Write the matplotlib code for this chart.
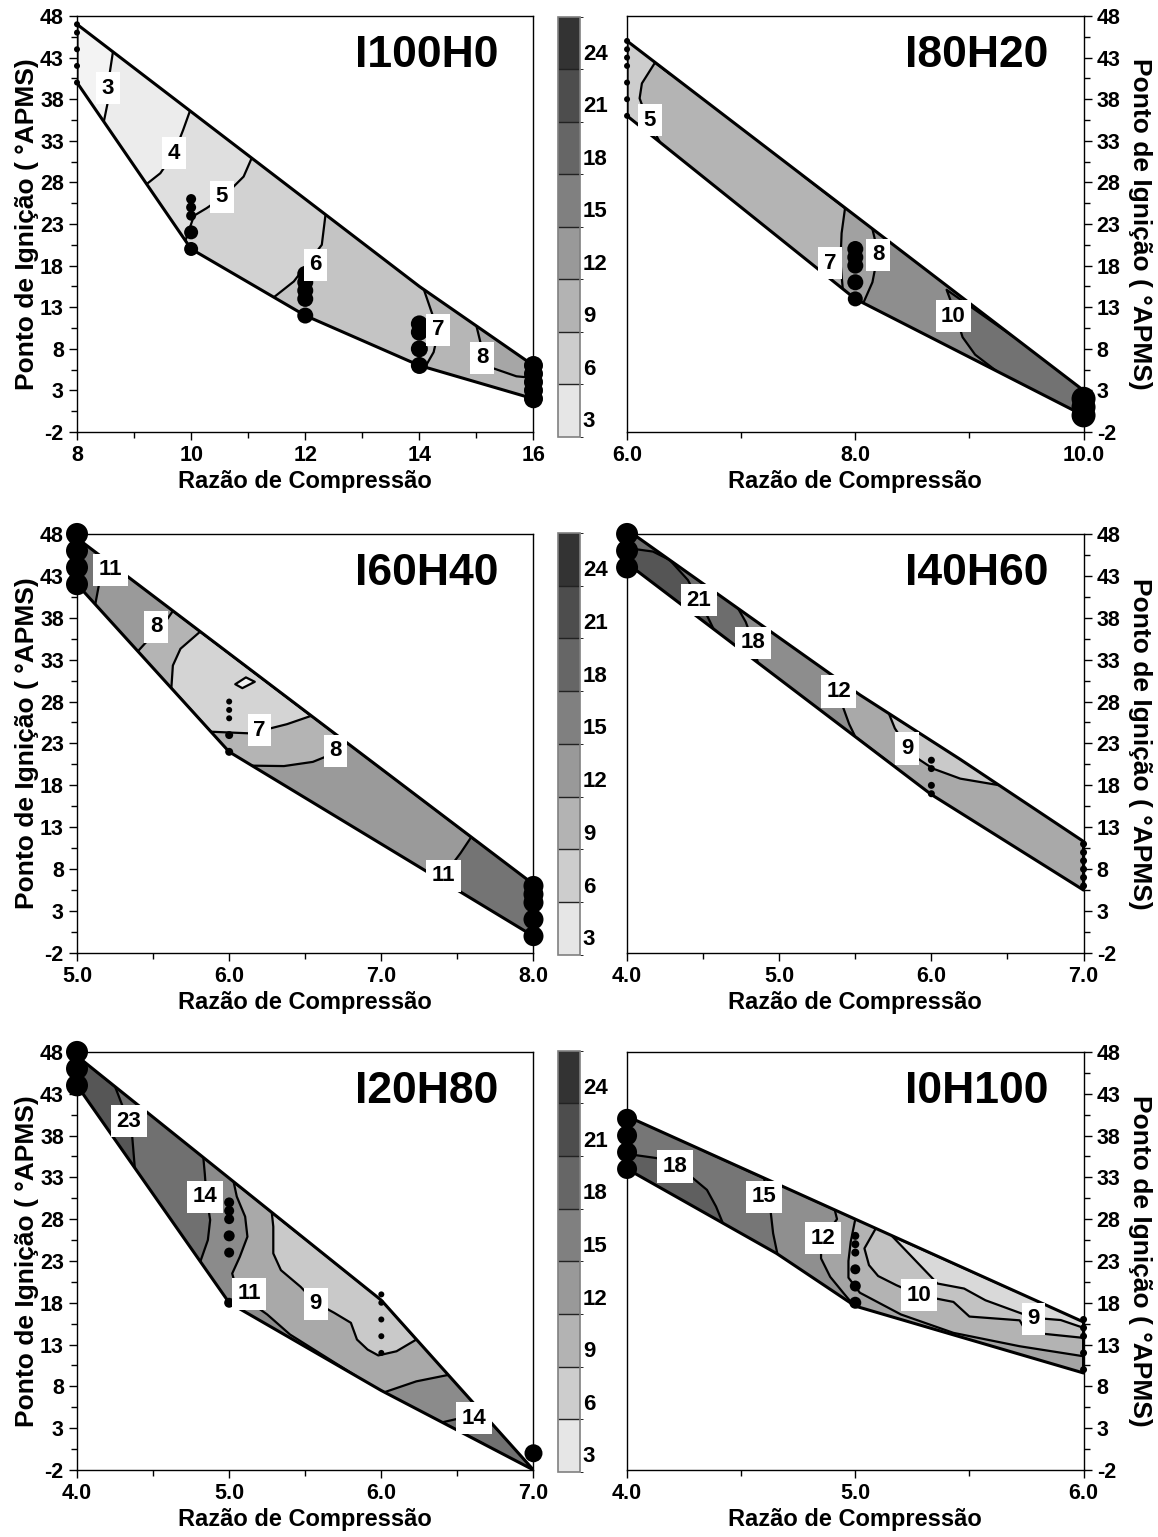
import matplotlib
matplotlib.use("Agg")
import matplotlib.pyplot as plt
import matplotlib.tri as mtri
from matplotlib.patches import Polygon
from matplotlib.colors import ListedColormap, BoundaryNorm
from matplotlib.ticker import FixedLocator, FormatStrFormatter
import matplotlib as mpl
import numpy as np

plt.rcParams['font.family'] = ['Liberation Sans', 'DejaVu Sans']
plt.rcParams['font.weight'] = 'bold'
plt.rcParams['axes.unicode_minus'] = False

# ---------------- I100H0 ----------------
a_boundary = [(8, 47), (8, 40), (10, 20), (12, 12), (14, 6), (16, 2), (16, 6), (14, 15.5)]
a_boundary_z = [2.6, 2.6, 5.05, 6.1, 6.95, 7.6, 8.4, 6.97]
a_isolines = [
    (3, [(8.63, 43.7), (8.57, 41.0), (8.55, 38.0), (8.47, 35.3)]),
    (4, [(9.98, 36.6), (9.86, 34.3), (9.70, 31.5), (9.46, 29.1), (9.22, 27.8)]),
    (5, [(11.06, 30.9), (10.92, 28.7), (10.57, 26.3), (10.27, 24.9), (10.05, 24.0), (9.90, 21.0)]),
    (6, [(12.36, 24.4), (12.29, 20.5), (12.20, 18.0), (12.0, 16.8), (11.80, 16.1), (11.45, 14.2)]),
    (7, [(14.08, 15.1), (14.22, 12.3), (14.33, 10.0), (14.25, 7.6), (14.10, 5.8)]),
    (8, [(15.00, 10.75), (15.08, 8.5), (15.15, 6.5), (15.30, 5.65), (15.70, 4.7), (16.0, 4.5)]),
]
a_extra = []
a_levels = [3, 4, 5, 6, 7, 8]
a_ens_x = [8, 8, 8, 8, 8, 10, 10, 10, 10, 10, 12, 12, 12, 12, 12, 14, 14, 14, 14, 16, 16, 16, 16, 16]
a_ens_y = [40, 42, 44, 46, 47, 20, 22, 24, 25, 26, 12, 14, 15, 16, 17, 6, 8, 10, 11, 2, 3, 4, 5, 6]
a_lab = {3: [(8.54, 39.3)], 4: [(9.70, 31.5)], 5: [(10.54, 26.25)], 6: [(12.18, 18.1)],
         7: [(14.33, 10.3)], 8: [(15.1, 6.9)]}

# ---------------- I80H20 ----------------
b_boundary = [(6, 45), (6, 36), (8, 14), (10, 0), (10, 3)]
b_boundary_z = [4.5, 4.5, 7.6, 11.0, 11.0]
b_isolines = [
    (5, [(6.245, 42.4), (6.13, 39.9), (6.11, 38.1), (6.18, 35.5), (6.29, 32.8)]),
    (7, [(7.91, 24.9), (7.88, 21.9), (7.87, 18.5), (7.89, 15.2)]),
    (8, [(8.15, 22.4), (8.20, 19.5), (8.15, 16.0), (8.07, 13.5)]),
    (10, [(8.80, 15.1), (8.87, 12.5), (8.94, 9.4), (9.05, 7.3), (9.24, 5.3)]),
]
b_extra = []
b_levels = [5, 7, 8, 10]
b_ens_x = [6] * 7 + [8] * 5 + [10] * 3
b_ens_y = [36, 38, 40, 42, 43, 44, 45, 14, 16, 18, 19, 20, 0, 1, 2]
b_lab = {5: [(6.20, 35.5)], 7: [(7.78, 18.3)], 8: [(8.20, 19.3)], 10: [(8.86, 11.9)]}

# ---------------- I60H40 ----------------
c_boundary = [(5, 47.5), (5, 42), (6, 22), (8, 0), (8, 6.2)]
c_boundary_z = [12.0, 12.0, 7.5, 12.3, 12.3]
c_isolines = [
    (11, [(5.17, 45.2), (5.15, 42.5), (5.12, 39.6)]),
    (8, [(5.63, 38.8), (5.58, 37.5), (5.50, 36.0), (5.40, 34.0)]),
    (7, [(5.81, 36.35), (5.68, 34.3), (5.63, 32.3), (5.62, 29.6)]),
    (7, [(5.88, 24.4), (6.14, 24.2), (6.38, 25.3), (6.54, 26.3)]),
    (8, [(6.15, 20.35), (6.36, 20.3), (6.55, 20.8), (6.70, 21.9), (6.78, 23.0)]),
    (11, [(7.59, 11.8), (7.52, 9.9), (7.45, 8.2), (7.40, 6.6)]),
]
c_extra = [(6.11, 30.3, 5.3), (5.99, 29.9, 6.5), (6.21, 30.4, 6.5), (6.11, 31.3, 6.5),
           (6.07, 29.1, 6.5), (5.75, 27.5, 6.7), (5.95, 33.5, 6.8), (6.30, 27.5, 6.7)]
c_levels = [6, 7, 8, 11]
c_ens_x = [5] * 4 + [6] * 5 + [8] * 5
c_ens_y = [42, 44, 46, 48, 22, 24, 26, 27, 28, 0, 2, 4, 5, 6]
c_lab = {11: [(5.22, 43.7), (7.41, 7.2)], 8: [(5.52, 36.9), (6.70, 22.1)], 7: [(6.20, 24.6)]}

# ---------------- I40H60 ----------------
d_boundary = [(4, 48.5), (4, 44.5), (6, 16.9), (7, 5.5), (7, 11.3), (6.19, 21.1), (5.53, 28.8)]
d_boundary_z = [20.3, 22.3, 10.6, 10.6, 10.4, 8.6, 10.5]
d_isolines = [
    (21, [(4.05, 46.2), (4.17, 45.9), (4.28, 44.9), (4.40, 42.5), (4.47, 40.1), (4.53, 38.1), (4.57, 36.6)]),
    (18, [(4.73, 39.1), (4.78, 37.5), (4.83, 35.0), (4.86, 32.6)]),
    (12, [(5.36, 31.1), (5.40, 29.0), (5.42, 27.3), (5.46, 25.3), (5.50, 23.8)]),
    (9, [(5.72, 26.6), (5.76, 24.8), (5.84, 22.6), (5.91, 21.2), (6.01, 20.0), (6.19, 18.8), (6.45, 18.0)]),
]
d_extra = [(6.02, 22.5, 8.6), (5.85, 24.5, 8.7)]
d_levels = [9, 12, 18, 21]
d_ens_x = [4] * 3 + [6] * 4 + [7] * 6
d_ens_y = [44, 46, 48, 17, 18, 20, 21, 6, 7, 8, 9, 10, 11]
d_lab = {21: [(4.47, 40.1)], 18: [(4.83, 35.0)], 12: [(5.39, 29.2)], 9: [(5.84, 22.4)]}

# ---------------- I20H80 ----------------
e_boundary = [(4, 47.5), (4, 44), (5, 18), (6, 7.5), (7, -2), (6, 18.3)]
e_boundary_z = [24.5, 24.5, 11.5, 10.9, 15.5, 8.6]
e_isolines = [
    (23, [(4.25, 43.85), (4.30, 41.5), (4.36, 38.5), (4.37, 36.3), (4.38, 34.1)]),
    (14, [(4.83, 35.4), (4.84, 33.4), (4.85, 30.9), (4.875, 27.9), (4.86, 25.5), (4.81, 22.9)]),
    (11, [(5.03, 32.4), (5.05, 30.7), (5.105, 28.3), (5.12, 25.9), (5.07, 23.5), (5.02, 21.5),
          (5.05, 19.5), (5.15, 17.9), (5.25, 16.6), (5.40, 14.2)]),
    (9, [(5.28, 28.8), (5.29, 27.1), (5.29, 23.9), (5.34, 21.9), (5.47, 19.9), (5.57, 18.0), (5.69, 16.8),
         (5.80, 15.6), (5.84, 13.6), (5.91, 12.4), (5.98, 11.7), (6.10, 12.2), (6.23, 13.6)]),
    (11, [(6.02, 7.3), (6.23, 8.6), (6.44, 9.37)]),
    (14, [(6.40, 3.7), (6.52, 4.2), (6.66, 4.9)]),
]
e_extra = [(5.60, 22.0, 8.5), (5.85, 18.0, 8.5), (6.0, 16.0, 8.6), (5.45, 25.0, 8.7)]
e_levels = [9, 11, 14, 23]
e_ens_x = [4] * 3 + [5] * 6 + [6] * 5 + [7]
e_ens_y = [44, 46, 48, 18, 24, 26, 28, 29, 30, 12, 14, 16, 18, 19, 0]
e_lab = {23: [(4.34, 39.7)], 14: [(4.84, 30.7), (6.61, 4.2)], 11: [(5.13, 19.1)], 9: [(5.57, 17.9)]}

# ---------------- I0H100 ----------------
f_boundary = [(4, 40.3), (4, 34), (4.655, 23.9), (5, 17.6), (6, 9.6), (6, 15.7)]
f_boundary_z = [17.2, 19.3, 15.05, 11.9, 11.4, 8.5]
f_isolines = [
    (18, [(4.0, 35.8), (4.13, 35.3), (4.21, 34.4), (4.28, 33.1), (4.35, 31.5), (4.39, 29.5), (4.42, 27.5)]),
    (15, [(4.60, 32.9), (4.62, 30.5), (4.63, 28.7), (4.64, 26.3), (4.645, 24.1)]),
    (12, [(4.91, 29.1), (4.92, 28.0), (4.88, 26.5), (4.85, 24.5), (4.85, 23.3), (4.89, 21.1),
          (4.95, 19.1), (4.99, 17.8)]),
    (11, [(5.0, 28.0), (4.98, 25.3), (4.97, 23.0), (4.97, 21.0), (5.02, 19.2), (5.20, 16.6),
          (5.43, 14.4), (5.72, 12.8), (6.0, 11.6)]),
    (10, [(5.09, 26.9), (5.04, 24.5), (5.06, 22.5), (5.10, 21.2), (5.18, 20.1), (5.28, 18.9),
          (5.43, 18.1), (5.72, 15.9), (6.0, 13.8)]),
    (9, [(5.16, 26.0), (5.12, 24.3), (5.14, 23.5), (5.21, 21.9), (5.36, 20.3), (5.57, 18.3),
         (5.78, 16.2), (6.0, 15.0)]),
]
f_extra = [(5.50, 20.5, 8.5), (5.85, 17.0, 8.5)]
f_levels = [9, 10, 11, 12, 15, 18]
f_ens_x = [4] * 4 + [5] * 6 + [6] * 5
f_ens_y = [34, 36, 38, 40, 18, 20, 22, 24, 25, 26, 10, 12, 14, 15, 16]
f_lab = {18: [(4.21, 34.3)], 15: [(4.60, 30.7)], 12: [(4.86, 25.7)], 10: [(5.28, 18.9)], 9: [(5.78, 16.1)]}

# shared colour scale shown in the colour bars
cbar_bounds = [2, 5, 8, 11, 14, 17, 20, 23, 26]
cbar_ticks = [3, 6, 9, 12, 15, 18, 21, 24]

# ---------------- styling ----------------
panels = [
    dict(name='I100H0', boundary=a_boundary, bz=a_boundary_z, iso=a_isolines, extra=a_extra,
         levels=a_levels, ex=a_ens_x, ey=a_ens_y, lab=a_lab, xlim=(8, 16), xmaj=[8, 10, 12, 14, 16],
         xmin=[9, 11, 13, 15], fmt='%d', side='left', row=0,
         fill_levels=[2, 3, 4, 5, 6, 7, 8, 9],
         fill_colors=['#f3f3f3', '#ececec', '#dfdfdf', '#d2d2d2', '#c4c4c4', '#b6b6b6', '#a6a6a6'],
         r=[3] * 5 + [7, 7, 5, 5, 5] + [8] * 5 + [8.5] * 4 + [9.5] * 5),
    dict(name='I80H20', boundary=b_boundary, bz=b_boundary_z, iso=b_isolines, extra=b_extra,
         levels=b_levels, ex=b_ens_x, ey=b_ens_y, lab=b_lab, xlim=(6, 10), xmaj=[6, 8, 10], xmin=[7, 9],
         fmt='%.1f', side='right', row=0,
         fill_levels=[4, 5, 7, 8, 10, 12],
         fill_colors=['#cdcdcd', '#b4b4b4', '#a1a1a1', '#8e8e8e', '#727272'],
         r=[3] * 7 + [7.5, 8, 8, 8, 8] + [12] * 3),
    dict(name='I60H40', boundary=c_boundary, bz=c_boundary_z, iso=c_isolines, extra=c_extra,
         levels=c_levels, ex=c_ens_x, ey=c_ens_y, lab=c_lab, xlim=(5, 8), xmaj=[5, 6, 7, 8],
         xmin=[5.5, 6.5, 7.5], fmt='%.1f', side='left', row=1,
         fill_levels=[5, 6, 7, 8, 11, 13],
         fill_colors=['#f2f2f2', '#d4d4d4', '#b4b4b4', '#9a9a9a', '#747474'],
         r=[11] * 4 + [4, 4, 3, 3, 3] + [10] * 5),
    dict(name='I40H60', boundary=d_boundary, bz=d_boundary_z, iso=d_isolines, extra=d_extra,
         levels=d_levels, ex=d_ens_x, ey=d_ens_y, lab=d_lab, xlim=(4, 7), xmaj=[4, 5, 6, 7],
         xmin=[4.5, 5.5, 6.5], fmt='%.1f', side='right', row=1,
         fill_levels=[8, 9, 12, 18, 21, 24],
         fill_colors=['#c9c9c9', '#a9a9a9', '#8d8d8d', '#6d6d6d', '#555555'],
         r=[11] * 3 + [3.5] * 4 + [3.5] * 6),
    dict(name='I20H80', boundary=e_boundary, bz=e_boundary_z, iso=e_isolines, extra=e_extra,
         levels=e_levels, ex=e_ens_x, ey=e_ens_y, lab=e_lab, xlim=(4, 7), xmaj=[4, 5, 6, 7],
         xmin=[4.5, 5.5, 6.5], fmt='%.1f', side='left', row=2,
         fill_levels=[8, 9, 11, 14, 23, 26],
         fill_colors=['#c9c9c9', '#a9a9a9', '#8b8b8b', '#707070', '#565656'],
         r=[11] * 3 + [5, 5, 5.5, 5, 5, 5] + [3] * 5 + [9]),
    dict(name='I0H100', boundary=f_boundary, bz=f_boundary_z, iso=f_isolines, extra=f_extra,
         levels=f_levels, ex=f_ens_x, ey=f_ens_y, lab=f_lab, xlim=(4, 6), xmaj=[4, 5, 6],
         xmin=[4.5, 5.5], fmt='%.1f', side='right', row=2,
         fill_levels=[8, 9, 10, 11, 12, 15, 18, 21],
         fill_colors=['#d9d9d9', '#c2c2c2', '#b3b3b3', '#a4a4a4', '#8f8f8f', '#767676', '#5f5f5f'],
         r=[10] * 4 + [6, 5.5, 5, 4, 4, 4] + [3.5] * 5),
]

row_pos = [(0.7189, 0.2707), (0.3800, 0.2726), (0.0436, 0.2720)]
cbar_pos = [(0.7157, 0.2733), (0.3787, 0.2746), (0.0423, 0.2740)]
cbar_colors = ['#e6e6e6', '#cdcdcd', '#b3b3b3', '#999999', '#808080', '#666666', '#4d4d4d', '#333333']


def build_field(p):
    xs, ys, zs = [], [], []
    for (x, y), v in zip(p['boundary'], p['bz']):
        xs.append(x); ys.append(y); zs.append(v)
    for level, pts in p['iso']:
        for x, y in pts:
            xs.append(x); ys.append(y); zs.append(level)
    for x, y, v in p['extra']:
        xs.append(x); ys.append(y); zs.append(v)
    xs, ys = np.array(xs, float), np.array(ys, float)
    # triangulate in axes-fraction space so the mesh is not skewed by the very
    # different x and y ranges
    x0, x1 = p['xlim']
    tri_n = mtri.Triangulation((xs - x0) / (x1 - x0), (ys + 2) / 50.0)
    return mtri.Triangulation(xs, ys, triangles=tri_n.triangles), np.array(zs, float)


fig = plt.figure(figsize=(11.58, 15.37), dpi=100)

for p in panels:
    bottom, height = row_pos[p['row']]
    left = 0.0665 if p['side'] == 'left' else 0.5415
    ax = fig.add_axes([left, bottom, 0.3942, height])

    tri, z = build_field(p)
    outline = Polygon(p['boundary'], closed=True, fill=False, ec='k', lw=2.2, zorder=3,
                      joinstyle='round')
    ax.add_patch(outline)

    cf = ax.tricontourf(tri, z, levels=p['fill_levels'], colors=p['fill_colors'], zorder=1)
    cf.set_clip_path(outline)
    cl = ax.tricontour(tri, z, levels=p['levels'], colors='k', linewidths=1.6, zorder=2)
    cl.set_clip_path(outline)

    sizes = [(1.44 * r) ** 2 for r in p['r']]
    ax.scatter(p['ex'], p['ey'], s=sizes, c='k', lw=0, zorder=4, clip_on=False)

    for level, spots in p['lab'].items():
        for x, y in spots:
            ax.text(x, y, str(level), ha='center', va='center', fontsize=16, fontweight='bold',
                    zorder=5, bbox=dict(boxstyle='square,pad=0.25', fc='white', ec='none'))

    ax.text(0.923, 0.906, p['name'], transform=ax.transAxes, ha='right', va='center',
            fontsize=32, fontweight='bold')

    ax.set_xlim(*p['xlim'])
    ax.set_ylim(-2, 48)
    ax.xaxis.set_major_locator(FixedLocator(p['xmaj']))
    ax.xaxis.set_minor_locator(FixedLocator(p['xmin']))
    ax.xaxis.set_major_formatter(FormatStrFormatter(p['fmt']))
    ax.yaxis.set_major_locator(FixedLocator(np.arange(-2, 49, 5)))
    ax.yaxis.set_minor_locator(FixedLocator(np.arange(0.5, 48, 5)))
    ax.tick_params(which='major', direction='out', length=6, width=1, labelsize=15.5)
    ax.tick_params(which='minor', direction='out', length=4, width=1)
    for s in ax.spines.values():
        s.set_linewidth(1.0)

    ax.set_xlabel('Razão de Compressão', fontsize=17, fontweight='bold', labelpad=3)
    if p['side'] == 'left':
        ax.set_ylabel('Ponto de Ignição ( °APMS)', fontsize=19, fontweight='bold', labelpad=1)
    else:
        ax.yaxis.tick_right()
        ax.yaxis.set_label_position('right')
        ax.set_ylabel('Ponto de Ignição ( °APMS)', fontsize=19, fontweight='bold',
                      rotation=270, va='bottom', labelpad=5)

# colour bars between the columns
cmap = ListedColormap(cbar_colors)
norm = BoundaryNorm(cbar_bounds, cmap.N)
for bottom, height in cbar_pos:
    cax = fig.add_axes([0.4819, bottom, 0.019, height])
    cb = mpl.colorbar.ColorbarBase(cax, cmap=cmap, norm=norm, boundaries=cbar_bounds,
                                   ticks=cbar_ticks, drawedges=True)
    cb.outline.set_edgecolor('#808080')
    cb.outline.set_linewidth(1.2)
    cb.dividers.set_color('#222222')
    cb.dividers.set_linewidth(1.0)
    cax.tick_params(length=0, labelsize=16, pad=2)
    for t in cax.get_yticklabels():
        t.set_fontweight('bold')

fig.savefig('out.png', dpi=100)
